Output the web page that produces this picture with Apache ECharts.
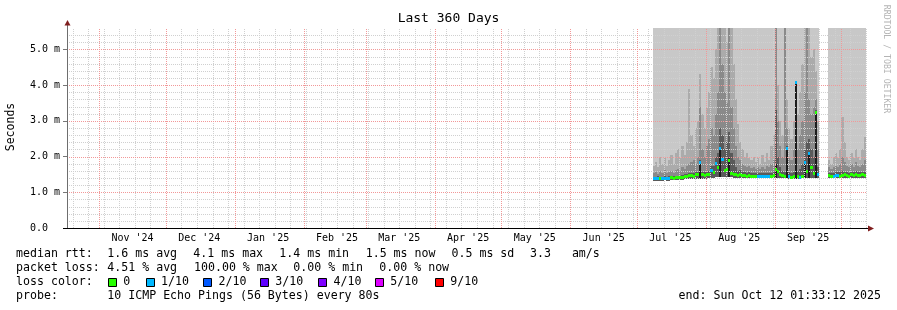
<!DOCTYPE html>
<html><head><meta charset="utf-8">
<script src="https://cdn.jsdelivr.net/npm/echarts@6/dist/echarts.min.js"></script>
<style>html,body{margin:0;padding:0;background:#fff}#c{width:897px;height:310px}</style>
</head><body><div id="c"></div>
<script>
// ---------- data ----------
const chartTitle = 'Last 360 Days';
const yAxisTitle = 'Seconds';
const axisStart = '2024-10-17T12:00:00Z';
const axisEnd = '2025-10-12T12:00:00Z';
const yMax = 5.6;
const yTicks = [0, 1, 2, 3, 4, 5];
const yTickLabels = ['0.0  ', '1.0 m', '2.0 m', '3.0 m', '4.0 m', '5.0 m'];
const monthLabels = ["Nov '24", "Dec '24", "Jan '25", "Feb '25", "Mar '25", "Apr '25", "May '25", "Jun '25", "Jul '25", "Aug '25", "Sep '25"];
const monthLabelDates = ['2024-11-16', '2024-12-16', '2025-01-16', '2025-02-16', '2025-03-16', '2025-04-16', '2025-05-16', '2025-06-16', '2025-07-16', '2025-08-16', '2025-09-16'];
const monthStarts = ['2024-11-01', '2024-12-01', '2025-01-01', '2025-02-01', '2025-03-01', '2025-04-01', '2025-05-01', '2025-06-01', '2025-07-01', '2025-08-01', '2025-09-01', '2025-10-01'];
const firstSunday = '2024-10-20';

// one entry per day, starting at firstDay (values in ms); null = no data
const firstDay = '2025-07-08';
const median = [1.40,1.40,1.41,1.40,1.40,1.41,1.40,1.41,1.42,1.41,1.42,1.42,1.43,1.44,1.45,1.46,1.48,1.48,1.47,1.50,1.52,1.86,1.50,1.49,1.52,1.50,1.63,1.58,1.82,1.70,2.23,1.94,1.63,1.65,1.91,1.55,1.52,1.50,1.48,1.50,1.49,1.48,1.47,1.48,1.47,1.47,1.46,1.46,1.45,1.46,1.45,1.47,1.46,1.47,1.48,1.65,1.60,1.50,1.48,1.47,2.24,1.45,1.44,1.46,4.10,1.45,1.44,1.47,1.86,1.60,2.10,1.70,1.55,3.26,1.50,null,null,null,null,1.48,1.47,1.47,1.48,1.49,1.47,1.48,1.50,1.48,1.47,1.50,1.48,1.52,1.49,1.48,1.50,1.49];
const lossTenths = [1,1,1,0,1,1,1,1,0,0,0,0,0,0,0,0,0,0,0,0,0,1,0,0,0,0,1,0,1,0,1,1,0,0,0,0,0,0,0,0,0,0,0,0,0,0,0,1,1,1,1,1,1,0,0,0,0,0,0,0,1,1,0,0,1,0,1,0,1,0,1,0,0,0,1,null,null,null,null,0,0,1,1,1,0,0,0,0,0,0,0,0,0,0,0,0];
const smokeMin = [1.33,1.33,1.33,1.33,1.33,1.34,1.33,1.33,1.34,1.34,1.34,1.34,1.35,1.35,1.36,1.36,1.37,1.37,1.37,1.38,1.38,1.38,1.38,1.38,1.38,1.39,1.40,1.40,1.42,1.42,1.44,1.44,1.43,1.43,1.43,1.42,1.41,1.40,1.40,1.40,1.40,1.40,1.40,1.40,1.40,1.40,1.39,1.39,1.39,1.39,1.39,1.39,1.39,1.40,1.40,1.40,1.40,1.40,1.39,1.39,1.39,1.38,1.38,1.38,1.38,1.38,1.38,1.39,1.40,1.40,1.40,1.40,1.40,1.40,1.39,null,null,null,null,1.39,1.39,1.39,1.39,1.39,1.39,1.39,1.39,1.39,1.39,1.39,1.39,1.40,1.39,1.39,1.39,1.39];
const smokeBlack = [1.33,1.33,1.33,1.33,1.33,1.34,1.33,1.33,1.34,1.34,1.34,1.34,1.35,1.35,1.36,1.36,1.37,1.37,1.37,1.38,1.38,1.86,1.38,1.38,1.38,1.39,1.40,1.40,1.42,1.42,2.23,1.44,1.43,1.43,1.95,1.42,1.41,1.40,1.40,1.40,1.40,1.40,1.40,1.40,1.40,1.40,1.39,1.39,1.39,1.39,1.39,1.39,1.39,1.40,1.40,1.80,1.40,1.40,1.39,1.39,2.24,1.38,1.38,1.38,4.10,1.38,1.38,1.39,1.86,1.40,2.10,1.40,1.40,3.26,1.39,null,null,null,null,1.39,1.39,1.39,1.39,1.39,1.39,1.39,1.39,1.39,1.39,1.39,1.39,1.40,1.39,1.39,1.39,1.39];
const smokeDark = [1.44,1.44,1.45,1.44,1.44,1.45,1.44,1.45,1.46,1.45,1.46,1.46,1.47,1.48,1.50,1.52,1.55,1.55,1.54,1.56,1.58,1.90,1.58,1.57,1.60,1.60,1.75,1.75,2.00,2.10,2.80,2.60,2.20,2.40,2.70,2.10,1.90,1.70,1.60,1.62,1.58,1.56,1.55,1.56,1.55,1.55,1.54,1.54,1.53,1.54,1.53,1.55,1.54,1.55,1.56,3.30,2.00,1.70,1.60,1.58,2.30,1.56,1.55,1.58,4.10,1.60,1.65,1.80,2.20,2.40,2.50,2.20,2.00,3.30,1.70,null,null,null,null,1.55,1.55,1.55,1.56,1.57,1.56,1.60,1.58,1.56,1.55,1.58,1.56,1.60,1.57,1.56,1.58,1.57];
const smokeMid = [1.55,1.58,1.52,1.60,1.55,1.62,1.55,1.58,1.60,1.55,1.62,1.65,1.60,1.70,1.65,1.75,1.80,1.85,1.90,1.80,2.00,3.40,2.20,2.00,2.30,2.50,2.80,2.60,3.20,3.80,5.60,4.60,3.80,3.50,5.60,3.40,2.80,2.30,2.00,1.90,1.80,1.75,1.70,1.75,1.68,1.70,1.65,1.70,1.65,1.72,1.66,1.75,1.70,1.80,1.90,5.60,3.00,2.30,2.00,5.60,2.80,2.00,1.90,2.20,4.10,2.20,2.60,3.00,3.80,5.60,3.60,3.20,3.40,3.60,2.20,null,null,null,null,1.70,1.65,1.70,1.75,1.70,1.80,2.00,1.85,1.75,1.70,1.80,1.72,1.85,1.75,1.70,1.80,1.90];
const smokeLight = [1.75,1.85,1.70,2.00,1.80,1.95,1.75,1.90,2.05,1.80,2.10,2.20,1.95,2.30,2.05,2.40,3.90,2.60,2.30,2.80,3.00,4.30,3.20,2.80,3.40,3.80,4.50,4.20,5.00,5.60,5.60,5.60,5.60,5.20,5.60,5.60,4.60,3.60,2.90,2.40,2.20,2.00,2.10,1.95,1.90,2.00,1.85,1.95,1.80,2.05,1.85,2.10,1.90,2.30,2.60,5.60,4.00,3.00,2.60,5.60,3.60,2.80,2.50,3.00,4.10,3.20,3.80,4.60,5.60,5.60,5.60,4.80,5.00,4.40,3.00,null,null,null,null,1.90,1.80,2.00,2.10,1.95,2.20,3.10,2.40,2.00,1.90,2.10,1.95,2.20,2.00,1.90,2.20,2.55];
const smokeMax = [5.6,5.6,5.6,5.6,5.6,5.6,5.6,5.6,5.6,5.6,5.6,5.6,5.6,5.6,5.6,5.6,5.6,5.6,5.6,5.6,5.6,5.6,5.6,5.6,5.6,5.6,5.6,5.6,5.6,5.6,5.6,5.6,5.6,5.6,5.6,5.6,5.6,5.6,5.6,5.6,5.6,5.6,5.6,5.6,5.6,5.6,5.6,5.6,5.6,5.6,5.6,5.6,5.6,5.6,5.6,5.6,5.6,5.6,5.6,5.6,5.6,5.6,5.6,5.6,5.6,5.6,5.6,5.6,5.6,5.6,5.6,5.6,5.6,5.6,5.6,null,null,null,null,5.6,5.6,5.6,5.6,5.6,5.6,5.6,5.6,5.6,5.6,5.6,5.6,5.6,5.6,5.6,5.6,5.6];

const lossLabels = ['0', '1/10', '2/10', '3/10', '4/10', '5/10', '9/10'];
const lossColors = ['#26ff00', '#00b8ff', '#0059ff', '#5e00ff', '#7e00ff', '#dd00ff', '#ff0000'];
const rttStats = ['1.6 ms avg', '4.1 ms max', '1.4 ms min', '1.5 ms now', '0.5 ms sd', '3.3   am/s'];
const lossStats = ['4.51 % avg', '100.00 % max', '0.00 % min', '0.00 % now'];
const probeText = '10 ICMP Echo Pings (56 Bytes) every 80s';
const endText = 'end: Sun Oct 12 01:33:12 2025';
const watermark = 'RRDTOOL / TOBI OETIKER';

// ---------- build ----------
const DAY = 86400000;
const tStart = Date.parse(axisStart), tEnd = Date.parse(axisEnd);
const t0 = Date.parse(firstDay + 'T00:00:00Z');
const labelTimes = monthLabelDates.map(d => Date.parse(d + 'T00:00:00Z'));
const monthTimes = monthStarts.map(d => Date.parse(d + 'T00:00:00Z'));
const weekTimes = [];
for (let t = Date.parse(firstSunday + 'T00:00:00Z'); t < tEnd; t += 7 * DAY) {
  if (monthTimes.indexOf(t) < 0) weekTimes.push(t);
}
const smokeData = [], medData = [];
median.forEach((m, i) => {
  const t = t0 + i * DAY;
  if (m == null) return;
  smokeData.push([t, smokeMin[i], smokeBlack[i], smokeDark[i], smokeMid[i], smokeLight[i], smokeMax[i]]);
  medData.push([t, m, lossTenths[i]]);
});
const vMinor = weekTimes.map(t => [t, 0]);
const vMajor = monthTimes.map(t => [t, 0]);
const hMinor = [], hMajor = [];
for (let k = 1; k < 28; k++) { const v = k / 5; (k % 5 === 0 ? hMajor : hMinor).push([tStart, v]); }
const xLabelData = labelTimes.map((t, i) => [t, 0, i]);

const MINOR = '#d0d0d0', MAJOR = '#f29898';
const FONT = '"DejaVu Sans Mono", monospace';

const chart = echarts.init(document.getElementById('c'), null, {renderer: 'canvas'});
const layerColors = ['#c8c8c8', '#ababab', '#8a8a8a', '#5a5a5a', '#1c1c1c'];

function renderSmoke(params, api) {
  const t = api.value(0);
  const lo = api.value(1);
  if (isNaN(lo)) return null;
  const xa = Math.round(api.coord([t, 0])[0]);
  const xb = Math.round(api.coord([t + DAY, 0])[0]);
  const yLo = Math.round(api.coord([t, lo])[1]);
  const dims = [6, 5, 4, 3, 2];
  const children = [];
  dims.forEach((d, k) => {
    const v = Math.min(api.value(d), yMax);
    const yt = Math.round(api.coord([t, v])[1]);
    if (yLo - yt > 0) children.push({type: 'rect', shape: {x: xa, y: yt, width: xb - xa, height: yLo - yt}, style: {fill: layerColors[k]}});
  });
  return {type: 'group', children};
}
function renderMedian(params, api) {
  const t = api.value(0);
  const m = api.value(1);
  const loss = api.value(2);
  const xa = Math.round(api.coord([t, 0])[0]);
  const xb = Math.round(api.coord([t + DAY, 0])[0]);
  const y = Math.round(api.coord([t, m])[1]);
  return {type: 'rect', shape: {x: xa, y: y - 1, width: xb - xa, height: 3}, style: {fill: lossColors[loss] || lossColors[0]}};
}
function vLine(color) {
  return function (params, api) {
    const t = api.value(0);
    const p0 = api.coord([t, 0]), p1 = api.coord([t, yMax]);
    const x = Math.round(p0[0]) + 0.5;
    return {type: 'line', shape: {x1: x, y1: p0[1], x2: x, y2: p1[1]}, style: {stroke: color, fill: null, lineWidth: 1, lineDash: [1, 1]}};
  };
}
function hLine(color) {
  return function (params, api) {
    const v = api.value(1);
    const p0 = api.coord([tStart, v]), p1 = api.coord([tEnd, v]);
    const y = Math.round(p0[1]) + 0.5;
    return {type: 'line', shape: {x1: p0[0], y1: y, x2: p1[0], y2: y}, style: {stroke: color, fill: null, lineWidth: 1, lineDash: [1, 1]}};
  };
}
function renderXLabel(params, api) {
  const t = api.value(0);
  const p = api.coord([t, 0]);
  return {type: 'text', x: p[0], y: p[1] + 10, style: {text: monthLabels[api.value(2)], font: '10px ' + FONT, fill: '#000', textAlign: 'center', textVerticalAlign: 'middle'}};
}

const graphics = [];
function txt(text, x, y, opts) {
  graphics.push({type: 'text', x: x, y: y, z: 100, style: Object.assign({text: text, font: '11.6px ' + FONT, fill: '#000', textVerticalAlign: 'middle', textAlign: 'left'}, opts || {})});
}
graphics.push({type: 'text', x: 448.5, y: 19, z: 100, style: {text: chartTitle, font: '13px ' + FONT, fill: '#000', textAlign: 'center', textVerticalAlign: 'middle'}});
graphics.push({type: 'text', x: 11, y: 127, rotation: Math.PI / 2, z: 100, style: {text: yAxisTitle, font: '11.5px ' + FONT, fill: '#000', textAlign: 'center', textVerticalAlign: 'middle'}});
graphics.push({type: 'text', x: 886, y: 59, rotation: -Math.PI / 2, z: 100, style: {text: watermark, font: '8.2px ' + FONT, fill: '#b4b4b4', textAlign: 'center', textVerticalAlign: 'middle'}});
graphics.push({type: 'line', z: 90, shape: {x1: 67.5, y1: 229, x2: 67.5, y2: 24}, style: {stroke: '#6e6e6e', lineWidth: 1}});
graphics.push({type: 'line', z: 91, shape: {x1: 63, y1: 228.5, x2: 869, y2: 228.5}, style: {stroke: '#000', lineWidth: 1}});
graphics.push({type: 'polygon', z: 92, shape: {points: [[64.5, 25.5], [70.5, 25.5], [67.5, 20]]}, style: {fill: '#801f1f'}});
graphics.push({type: 'polygon', z: 92, shape: {points: [[868, 225.5], [868, 231.5], [874, 228.5]]}, style: {fill: '#801f1f'}});
const rowY = [254.3, 268.3, 282.3, 296.3];
const colX = [107.3, 193.3, 279.3, 365.7, 451.5, 530];
txt('median rtt:', 16, rowY[0]);
rttStats.forEach((s, i) => txt(s, colX[i], rowY[0]));
txt('packet loss:', 16, rowY[1]);
const lossX = [107.3, 194, 293.3, 379.3];
lossStats.forEach((s, i) => txt(s, lossX[i], rowY[1]));
txt('loss color:', 16, rowY[2]);
const boxX = [108, 145.7, 203.3, 260, 318.3, 375, 435];
lossLabels.forEach((s, i) => {
  graphics.push({type: 'rect', z: 100, shape: {x: Math.round(boxX[i]) + 0.5, y: 278.5, width: 8, height: 8}, style: {fill: lossColors[i], stroke: '#000', lineWidth: 1}});
  txt(s, boxX[i] + 15.3, rowY[2]);
});
txt('probe:', 16, rowY[3]);
txt(probeText, 107.3, rowY[3]);
txt(endText, 881, rowY[3], {textAlign: 'right'});

const gridSeries = (name, data, fn, z) => ({type: 'custom', name, z, renderItem: fn, data, encode: {x: 0, y: 1}, silent: true});

chart.setOption({
  animation: false,
  backgroundColor: '#fff',
  grid: {left: 67, right: 30, top: 28, bottom: 82},
  xAxis: {
    type: 'time', min: tStart, max: tEnd,
    axisLine: {show: false}, axisTick: {show: false}, splitLine: {show: false},
    axisLabel: {show: false}
  },
  yAxis: {
    type: 'value', min: 0, max: yMax, interval: 1,
    axisLine: {show: false}, splitLine: {show: false},
    axisTick: {show: true, length: 4, lineStyle: {color: '#777'}},
    axisLabel: {margin: 7, fontSize: 10, fontFamily: FONT, color: '#000', showMaxLabel: false,
      formatter: v => { const k = yTicks.indexOf(Math.round(v * 10) / 10); return k >= 0 ? yTickLabels[k] : ''; }}
  },
  series: [
    {type: 'custom', name: 'smoke', z: 1, renderItem: renderSmoke, data: smokeData, encode: {x: 0, y: 1}, silent: true},
    gridSeries('vminor', vMinor, vLine(MINOR), 2),
    gridSeries('hminor', hMinor, hLine(MINOR), 2),
    gridSeries('vmajor', vMajor, vLine(MAJOR), 2.5),
    gridSeries('hmajor', hMajor, hLine(MAJOR), 2.5),
    {type: 'custom', name: 'median', z: 3, renderItem: renderMedian, data: medData, encode: {x: 0, y: 1}, silent: true},
    {type: 'custom', name: 'xlabels', z: 3, renderItem: renderXLabel, data: xLabelData, encode: {x: 0, y: 1}, silent: true, clip: false}
  ],
  graphic: graphics
});
</script></body></html>
